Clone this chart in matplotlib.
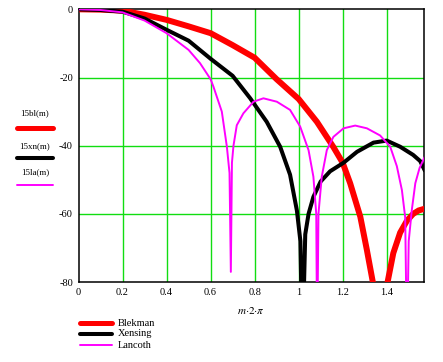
import matplotlib
matplotlib.use("Agg")
import matplotlib.pyplot as plt
from matplotlib.lines import Line2D

# ---- data (x in units of m*2*pi, y in dB) ----
bl_x = [0, 0.1, 0.2, 0.3, 0.4, 0.5, 0.6, 0.7, 0.8, 0.9, 1.0, 1.083, 1.157, 1.2,
        1.234, 1.28, 1.31, 1.337, 1.37, 1.404, 1.43, 1.461, 1.492, 1.52, 1.545, 1.571]
bl_y = [0, -0.1, -0.4, -1.6, -3.1, -5.0, -7.0, -10.5, -14.2, -20.5, -26.3, -33, -40.3, -45,
        -51, -60.8, -70.6, -80, -100, -80, -71.5, -65.5, -62, -60, -59, -58.5]

xn_x = [0, 0.1, 0.2, 0.3, 0.4, 0.5, 0.6, 0.7, 0.78, 0.855, 0.916, 0.961, 0.992, 1.008,
        1.017, 1.03, 1.045, 1.067, 1.10, 1.143, 1.204, 1.265, 1.34, 1.40, 1.461, 1.52, 1.552, 1.571]
xn_y = [0, -0.2, -0.7, -2.7, -6.0, -9.2, -14.5, -19.5, -26.1, -33, -40.3, -48.5, -59, -68,
        -100, -66, -60, -55, -50.5, -47.5, -45, -41.8, -39.1, -38.5, -40.3, -42.7, -44.5, -47]

la_x = [0, 0.1, 0.2, 0.3, 0.4, 0.5, 0.552, 0.6, 0.613, 0.651, 0.674, 0.686, 0.692, 0.697,
        0.704, 0.719, 0.749, 0.795, 0.84, 0.901, 0.961, 1.007, 1.045, 1.067, 1.08, 1.084,
        1.09, 1.105, 1.128, 1.158, 1.204, 1.257, 1.31, 1.37, 1.416, 1.446, 1.469, 1.484,
        1.492, 1.50, 1.514, 1.53, 1.549, 1.571]
la_y = [0, -0.2, -0.9, -3.3, -7.0, -11.9, -15.8, -20.5, -22.7, -30, -40.3, -48, -77, -45,
        -40, -34, -30.5, -27.1, -26.1, -27.1, -29.5, -34.4, -41.3, -49.1, -60, -100,
        -60, -49.1, -41.3, -37.4, -34.9, -34.1, -34.9, -37, -40.3, -46, -53, -61,
        -100, -68, -58.9, -51, -46.6, -43.5]

x_ticks = [0, 0.2, 0.4, 0.6, 0.8, 1.0, 1.2, 1.4]
x_tick_labels = ["0", "0.2", "0.4", "0.6", "0.8", "1", "1.2", "1.4"]
y_ticks = [0, -20, -40, -60, -80]
y_tick_labels = ["0", "-20", "-40", "-60", "-80"]
series_names = ["Blekman", "Xensing", "Lancoth"]
axis_names = ["15bl(m)", "15xn(m)", "15la(m)"]

W, H = 443, 362
fig = plt.figure(figsize=(W / 100, H / 100), dpi=100)
fig.patch.set_facecolor("white")
L, R, T, B = 78.5, 424.3, 9.3, 282.1
ax = fig.add_axes([L / W, 1 - B / H, (R - L) / W, (B - T) / H])

FONT = "Liberation Serif"
FS = 7.5
colors = ["#ff0000", "#000000", "#ff00ff"]
widths = [4.3, 2.9, 1.4]

ax.plot(bl_x, bl_y, color=colors[0], lw=widths[0], solid_joinstyle="miter", zorder=3)
ax.plot(xn_x, xn_y, color=colors[1], lw=widths[1], zorder=4)
ax.plot(la_x, la_y, color=colors[2], lw=widths[2], zorder=5)

ax.set_xlim(0, 1.5708)
ax.set_ylim(-80, 0)
ax.set_xticks(x_ticks)
ax.set_xticklabels(x_tick_labels, fontfamily=FONT, fontsize=FS)
ax.set_yticks(y_ticks)
ax.set_yticklabels(y_tick_labels, fontfamily=FONT, fontsize=FS)
ax.tick_params(length=0, pad=4)
for gx in x_ticks[1:]:
    ax.axvline(gx, color="#11dd11", lw=1.0, zorder=1)
for gy in y_ticks[1:-1]:
    ax.axhline(gy, color="#11dd11", lw=1.0, zorder=1)
for s in ax.spines.values():
    s.set_linewidth(1.1)
    s.set_color("black")

fig.text(251 / W, 1 - 310 / H, r"$m{\cdot}2{\cdot}\pi$", ha="center", va="center",
         fontsize=8, fontfamily=FONT, math_fontfamily="stix")

# left stacked axis labels
label_y = [113, 146, 172]
line_y = [128, 158, 185]
for name, ly, lny, c, w in zip(axis_names, label_y, line_y, colors, [3.6, 2.9, 1.4]):
    fig.text(35 / W, 1 - ly / H, name, ha="center", va="center",
             fontfamily=FONT, fontsize=6.5)
    fig.add_artist(Line2D([17 / W, 53 / W], [1 - lny / H, 1 - lny / H],
                          color=c, lw=w, solid_capstyle="round"))

# bottom legend
leg_y = [323, 334, 345]
for name, ly, c, w in zip(series_names, leg_y, colors, [3.6, 2.9, 1.4]):
    fig.add_artist(Line2D([80 / W, 112 / W], [1 - ly / H, 1 - ly / H],
                          color=c, lw=w, solid_capstyle="round"))
    fig.text(118 / W, 1 - ly / H, name, ha="left", va="center",
             fontfamily=FONT, fontsize=FS)

fig.savefig("out.png", dpi=100, facecolor="white")
